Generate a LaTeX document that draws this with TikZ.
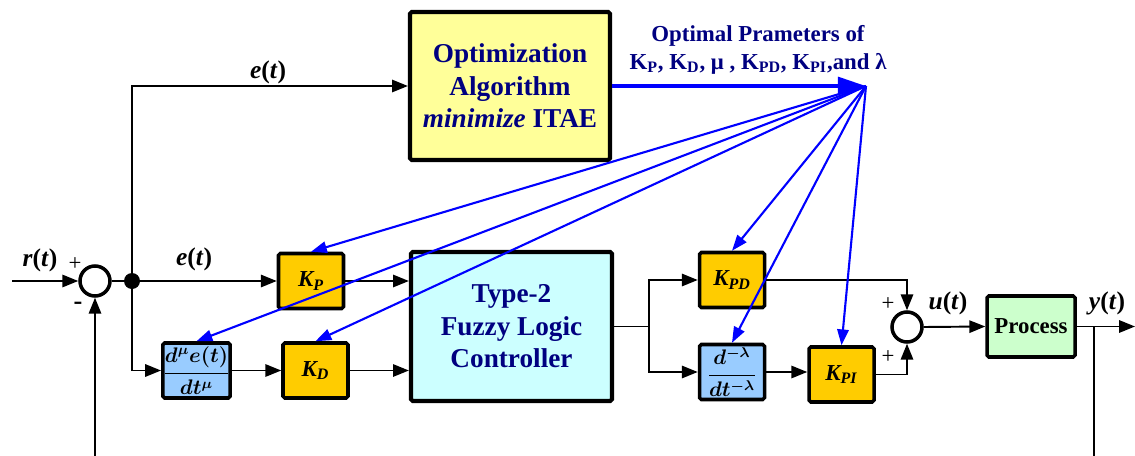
\documentclass[tikz,border=0pt]{standalone}
\usepackage{fontspec}
\setmainfont{Liberation Serif}
\usetikzlibrary{arrows.meta}

\definecolor{navy}{RGB}{0,0,128}
\definecolor{optfill}{RGB}{255,255,153}
\definecolor{flcfill}{RGB}{204,255,255}
\definecolor{gainfill}{RGB}{255,204,0}
\definecolor{fracfill}{RGB}{153,204,255}
\definecolor{procfill}{RGB}{204,255,204}

\newcommand\bigfont{\fontsize{15.5}{18.5}\selectfont\bfseries}
\newcommand\midfont{\fontsize{13}{15.5}\selectfont\bfseries}
\newcommand\sigfont{\fontsize{14.5}{16}\selectfont\bfseries}
\newcommand\gainfont{\fontsize{13}{14}\selectfont\bfseries\itshape}
\newcommand\fracfont{\fontsize{12}{13}\selectfont\boldmath}
% signal name such as e(t): italic letters, upright brackets
\newcommand\signal[2]{\textit{#1}(\textit{#2})}
% gain with an italic lowered subscript
\newcommand\gain[1]{K\textsubscript{#1}}

\tikzset{
  arr/.style={-{Triangle[length=9pt,width=7pt]}, line width=1.1pt},
  fan/.style={-{Triangle[length=9pt,width=6.5pt]}, line width=1.2pt, blue},
  mainfan/.style={-{Triangle[length=16pt,width=10pt]}, line width=2.4pt, blue},
  blockbase/.style={draw, line width=2pt, rounded corners=1pt, inner sep=0pt, align=center},
  optbox/.style={blockbase, line width=2.4pt, fill=optfill, text=navy, font=\bigfont,
    minimum width=200*0.02cm, minimum height=148*0.02cm},
  flcbox/.style={blockbase, line width=2.4pt, fill=flcfill, text=navy, font=\bigfont,
    minimum width=201*0.02cm, minimum height=149*0.02cm},
  gainbox/.style={blockbase, fill=gainfill, font=\gainfont,
    minimum width=65*0.02cm, minimum height=55*0.02cm},
  fracbox/.style={blockbase, fill=fracfill, font=\fracfont,
    minimum width=65*0.02cm, minimum height=55*0.02cm},
  procbox/.style={blockbase, fill=procfill, font=\midfont,
    minimum width=88*0.02cm, minimum height=61*0.02cm},
  sumnode/.style={circle, draw, line width=2pt, fill=white, inner sep=0pt, minimum size=30*0.02cm},
  sig/.style={font=\sigfont, inner sep=0pt},
  sgn/.style={font=\fontsize{13}{15}\selectfont, inner sep=0pt},
}

\begin{document}
\begin{tikzpicture}[x=0.02cm, y=-0.02cm]
\useasboundingbox (0,0) rectangle (1135,456);

% blocks
\node[optbox] (opt) at (510,86) {Optimization\\Algorithm\\\textit{minimize} ITAE};
\node[flcbox] (flc) at (511.5,326.5) {Type-2\\Fuzzy Logic\\Controller};
\node[gainbox] (kp) at (311,281) {\gain{P}};
\node[fracbox] (dmu) at (196.5,370.5) {$\displaystyle\frac{d^{\mu}e(t)}{dt^{\mu}}$};
\node[gainbox] (kd) at (315.5,370.5) {\gain{D}};
\node[gainbox] (kpd) at (732,280) {\gain{PD}};
\node[fracbox] (dlam) at (732,372) {$\displaystyle\frac{d^{-\lambda}}{dt^{-\lambda}}$};
\node[gainbox] (kpi) at (841.5,374.5) {\gain{PI}};
\node[procbox] (proc) at (1031,326.5) {Process};

% summing points and branch points
\node[sumnode] (s1) at (95,281) {};
\node[sumnode] (s2) at (907,327) {};
\node[circle, fill, inner sep=0pt, minimum size=16*0.02cm] (jn) at (132,281) {};
\coordinate (rin) at (12,281);
\coordinate (split) at (649,326.5);
\coordinate (yout) at (1135,326.5);
\coordinate (fbtap) at (1094,326.5);
\coordinate (fbend) at (1094,456);
\coordinate (fbin) at (95,456);
\coordinate (focus) at (866,86);

% signal flow
\draw[arr] (rin) -- (s1.west);
\draw[line width=1.1pt] (s1.east) -- (jn);
\draw[arr] (jn) -- (kp.west);
\draw[arr] (jn) |- (opt.west);
\draw[arr] (jn) |- (dmu.west);
\draw[arr] (dmu.east) -- (kd.west);
\draw[arr] (kp.east) -- (kp.east -| flc.west);
\draw[arr] (kd.east) -- (kd.east -| flc.west);
\draw[line width=1.1pt] (flc.east) -- (split);
\draw[arr] (split) |- (kpd.west);
\draw[arr] (split) |- (dlam.west);
\draw[arr] (dlam.east) -- (dlam.east -| kpi.west);
\draw[arr] (kpd.east) -| (s2.north);
\draw[arr] (kpi.east) -| (s2.south);
\draw[arr] (s2.east) -- (proc.west);
\draw[arr] (proc.east) -- (yout);
\draw[line width=1.1pt] (fbtap) -- (fbend);
\draw[arr] (fbin) -- (s1.south);

% tuned parameters
\draw[mainfan] (opt.east) -- (focus);
\foreach \b in {kp,dmu,kd,kpd,dlam,kpi} \draw[fan] (focus) -- (\b.north);

% labels
\node[font=\midfont, text=navy, align=center] (optlbl) at (758,50)
  {Optimal Prameters of\\K\textsubscript{P}, K\textsubscript{D}, μ , K\textsubscript{PD}, K\textsubscript{PI},and λ};
\node[sig] (eup) at (268,72) {\signal{e}{t}};
\node[sig] (elow) at (194,259) {\signal{e}{t}};
\node[sig] (rlbl) at (40,260) {\signal{r}{t}};
\node[sig] (ulbl) at (948,303) {\signal{u}{t}};
\node[sig] (ylbl) at (1107,303) {\signal{y}{t}};
\node[sgn] (p1) at (75,264) {+};
\node[sgn, font=\fontsize{15}{15}\selectfont\bfseries] (m1) at (78,306) {-};
\node[sgn] (p2) at (888,304) {+};
\node[sgn] (p3) at (888,357) {+};
\end{tikzpicture}
\end{document}
